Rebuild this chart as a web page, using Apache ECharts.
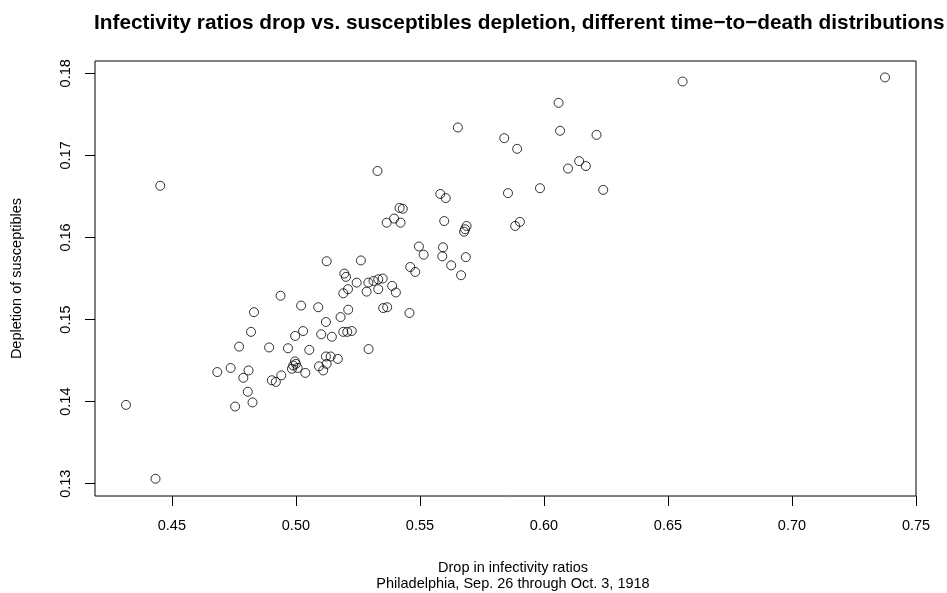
<!DOCTYPE html>
<html>
<head>
<meta charset="utf-8">
<script src="https://cdn.jsdelivr.net/npm/echarts@6/dist/echarts.min.js"></script>
<style>
html,body{margin:0;padding:0;background:#fff;}
#chart{width:947px;height:593px;}
</style>
</head>
<body>
<div id="chart"></div>
<script>
// Drop in infectivity ratios (x)
const dropRatios = [
  0.4453, 0.5329, 0.6059, 0.5653, 0.5840, 0.6065, 0.6212, 0.5892, 0.6142, 0.6169,
  0.6097, 0.5984, 0.6239, 0.5855, 0.5582, 0.5604, 0.5418, 0.5431, 0.5366, 0.5396,
  0.5422, 0.5598, 0.5688, 0.5682, 0.5678, 0.5903, 0.5884, 0.6559, 0.7375, 0.5496,
  0.5515, 0.5593, 0.5590, 0.5685, 0.5626, 0.5666, 0.5461, 0.5481, 0.5388, 0.5403,
  0.5352, 0.5368, 0.5458, 0.5124, 0.5262, 0.5195, 0.5202, 0.5245, 0.5292, 0.5313,
  0.5332, 0.5350, 0.5332, 0.5210, 0.5191, 0.5285, 0.4938, 0.5021, 0.5090, 0.4831,
  0.5211, 0.5180, 0.5121, 0.4819, 0.4997, 0.5029, 0.5102, 0.5145, 0.5191, 0.5207,
  0.5225, 0.5293, 0.4771, 0.4892, 0.4968, 0.5054, 0.5121, 0.5140, 0.5169, 0.5093,
  0.5124, 0.5110, 0.4996, 0.5000, 0.4989, 0.4984, 0.5007, 0.5038, 0.4941, 0.4903,
  0.4919, 0.4683, 0.4737, 0.4809, 0.4788, 0.4806, 0.4825, 0.4755, 0.4315, 0.4434
];
// Depletion of susceptibles (y)
const depletion = [
  0.1663, 0.1681, 0.1764, 0.1734, 0.1721, 0.1730, 0.1725, 0.1708, 0.1693, 0.1687,
  0.1684, 0.1660, 0.1658, 0.1654, 0.1653, 0.1648, 0.1636, 0.1635, 0.1618, 0.1623,
  0.1618, 0.1620, 0.1614, 0.1610, 0.1607, 0.1619, 0.1614, 0.1790, 0.1795, 0.1589,
  0.1579, 0.1588, 0.1577, 0.1576, 0.1566, 0.1554, 0.1564, 0.1558, 0.1541, 0.1533,
  0.1514, 0.1515, 0.1508, 0.1571, 0.1572, 0.1556, 0.1552, 0.1545, 0.1545, 0.1547,
  0.1549, 0.1550, 0.1537, 0.1537, 0.1532, 0.1534, 0.1529, 0.1517, 0.1515, 0.1509,
  0.1512, 0.1503, 0.1497, 0.1485, 0.1480, 0.1486, 0.1482, 0.1479, 0.1485, 0.1485,
  0.1486, 0.1464, 0.1467, 0.1466, 0.1465, 0.1463, 0.1455, 0.1455, 0.1452, 0.1443,
  0.1446, 0.1438, 0.1449, 0.1446, 0.1444, 0.1440, 0.1441, 0.1435, 0.1432, 0.1426,
  0.1424, 0.1436, 0.1441, 0.1438, 0.1429, 0.1412, 0.1399, 0.1394, 0.1396, 0.1306
];
const xTicks = [0.45, 0.50, 0.55, 0.60, 0.65, 0.70, 0.75];
const yTicks = [0.13, 0.14, 0.15, 0.16, 0.17, 0.18];

const titleText = 'Infectivity ratios drop vs. susceptibles depletion, different time\u2212to\u2212death distributions';
const xName = 'Drop in infectivity ratios';
const subName = 'Philadelphia, Sep. 26 through Oct. 3, 1918';
const yName = 'Depletion of susceptibles';

const points = dropRatios.map((x, i) => [x, depletion[i]]);
const FONT = '"Liberation Sans", Arial, Helvetica, sans-serif';

const chart = echarts.init(document.getElementById('chart'), null, {renderer: 'canvas'});
chart.setOption({
  animation: false,
  backgroundColor: '#ffffff',
  textStyle: {fontFamily: FONT},
  title: [
    {
      text: titleText,
      left: 89, top: 8, textAlign: 'left',
      textStyle: {fontFamily: FONT, fontSize: 20.8, fontWeight: 'bold', color: '#000'}
    },
    {
      text: xName + '\n' + subName,
      left: 508, top: 555, textAlign: 'center',
      textStyle: {fontFamily: FONT, fontSize: 14.5, fontWeight: 'normal', color: '#000', lineHeight: 16}
    }
  ],
  grid: {
    left: 95, right: 31, top: 61, bottom: 97,
    show: true, borderColor: '#000', borderWidth: 1, backgroundColor: 'transparent'
  },
  xAxis: {
    type: 'value',
    min: 0.419, max: 0.750,
    axisLine: {show: false},
    splitLine: {show: false},
    axisTick: {show: true, inside: false, length: 10, customValues: xTicks, lineStyle: {color: '#000', width: 1}},
    axisLabel: {
      show: true, customValues: xTicks, margin: 22,
      formatter: v => v.toFixed(2),
      fontFamily: FONT, fontSize: 14.5, color: '#000'
    }
  },
  yAxis: {
    type: 'value',
    min: 0.1285, max: 0.1815,
    name: yName,
    nameLocation: 'middle',
    nameRotate: 90,
    nameGap: 71,
    nameTextStyle: {fontFamily: FONT, fontSize: 14.5, color: '#000'},
    axisLine: {show: false},
    splitLine: {show: false},
    axisTick: {show: true, inside: false, length: 10, customValues: yTicks, lineStyle: {color: '#000', width: 1}},
    axisLabel: {
      show: true, customValues: yTicks, margin: 22, rotate: 90,
      formatter: v => v.toFixed(2),
      fontFamily: FONT, fontSize: 14.5, color: '#000'
    }
  },
  series: [{
    type: 'scatter',
    data: points,
    symbol: 'circle',
    symbolSize: 9,
    itemStyle: {color: 'rgba(0,0,0,0)', borderColor: '#000', borderWidth: 1},
    emphasis: {disabled: true},
    silent: true
  }]
});
</script>
</body>
</html>
